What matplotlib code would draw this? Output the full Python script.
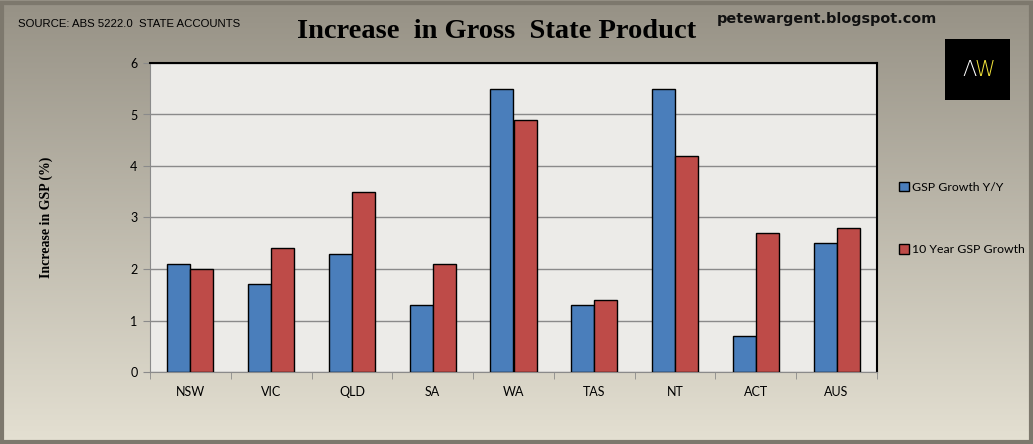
import numpy as np
import matplotlib
matplotlib.use("Agg")
import matplotlib.pyplot as plt
from matplotlib.patches import Rectangle

# data
states = ["NSW", "VIC", "QLD", "SA", "WA", "TAS", "NT", "ACT", "AUS"]
gsp_yy = [2.1, 1.7, 2.3, 1.3, 5.5, 1.3, 5.5, 0.7, 2.5]
gsp_10y = [2.0, 2.4, 3.5, 2.1, 4.9, 1.4, 4.2, 2.7, 2.8]
yticks = [0, 1, 2, 3, 4, 5, 6]

blue = "#4a7ebb"
red = "#be4b48"

fig = plt.figure(figsize=(10.33, 4.44), dpi=100)

# background gradient, darker at the top
bg = fig.add_axes([0, 0, 1, 1], zorder=-10)
top = np.array([150, 145, 133]) / 255
bot = np.array([228, 224, 210]) / 255
t = np.linspace(0, 1, 200)[:, None, None]
grad = top * (1 - t) + bot * t
grad = np.repeat(grad, 2, axis=1)
bg.imshow(grad, aspect="auto", extent=[0, 1, 0, 1], origin="upper")
bg.add_patch(Rectangle((0.002, 0.004), 0.996, 0.99, fill=False,
                       edgecolor="#7d786d", lw=3))
bg.set_xlim(0, 1)
bg.set_ylim(0, 1)
bg.axis("off")

ax = fig.add_axes([150 / 1033, 1 - 372 / 444, 727 / 1033, 309 / 444])
ax.set_facecolor("#ecebe8")

x = np.arange(len(states))
w = 0.285
ax.bar(x - w / 2, gsp_yy, w, color=blue, edgecolor="black", lw=1,
       label="GSP Growth Y/Y", zorder=3)
ax.bar(x + w / 2, gsp_10y, w, color=red, edgecolor="black", lw=1,
       label="10 Year GSP Growth", zorder=3)

ax.set_xlim(-0.5, len(states) - 0.5)
ax.set_ylim(0, 6)
ax.set_yticks(yticks)
ax.yaxis.grid(True, color="#8a8a8a", lw=1, zorder=1)
ax.set_xticks(x)
ax.set_xticklabels(states, family="Lato", fontsize=9)
ax.set_xticks(np.arange(-0.5, len(states)), minor=True)
ax.tick_params(axis="x", which="major", length=0, pad=10)
ax.tick_params(axis="x", which="minor", length=5, color="#8a8a8a", direction="out")
ax.tick_params(axis="y", length=5, color="#8a8a8a", labelsize=9, pad=4)
for lab in ax.get_yticklabels():
    lab.set_family("Lato")

ax.spines["left"].set_color("#8a8a8a")
ax.spines["bottom"].set_color("#8a8a8a")
ax.spines["top"].set_color("black")
ax.spines["right"].set_color("black")
ax.spines["top"].set_linewidth(1.5)
ax.spines["right"].set_linewidth(1.5)

ax.set_ylabel("Increase in GSP (%)", family="Liberation Serif", weight="bold",
              fontsize=10, labelpad=0)
ax.yaxis.set_label_coords(-97 / 727, 0.5)

leg = fig.legend(loc="upper left", bbox_to_anchor=(894 / 1033, 1 - 177 / 444),
                 frameon=False, prop={"family": "Lato", "size": 8.8},
                 handlelength=0.8, handleheight=0.8, handletextpad=0.3,
                 labelspacing=4.2, borderaxespad=0)

fig.text(497 / 1033, 1 - 32 / 444, "Increase  in Gross  State Product",
         family="Liberation Serif", weight="bold", fontsize=20.5,
         ha="center", va="center")
fig.text(18 / 1033, 1 - 24 / 444, "SOURCE: ABS 5222.0  STATE ACCOUNTS",
         family="Liberation Sans", fontsize=8.2, ha="left", va="center")
fig.text(717 / 1033, 1 - 19 / 444, "petewargent.blogspot.com",
         family="DejaVu Sans", weight="bold", fontsize=10.4, ha="left",
         va="center", color="#111111")

# logo box
logo = fig.add_axes([945 / 1033, 1 - 100 / 444, 65 / 1033, 61 / 444])
logo.set_facecolor("black")
logo.set_xticks([])
logo.set_yticks([])
for s in logo.spines.values():
    s.set_visible(False)
logo.text(0.37, 0.5, "Λ", color="white", fontsize=15, ha="center", va="center",
          family="DejaVu Sans", weight="light")
logo.text(0.62, 0.5, "W", color="#f2e33a", fontsize=15, ha="center", va="center",
          family="DejaVu Sans", weight="light")

fig.savefig("out.png", dpi=100)
